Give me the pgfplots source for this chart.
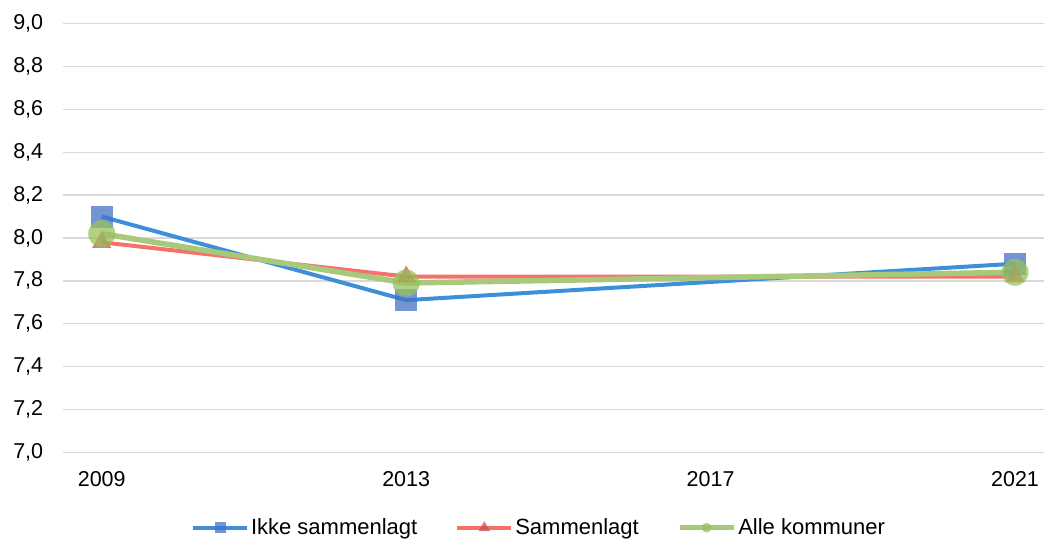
\documentclass[border=0pt]{standalone}
\usepackage{fontspec}
\setmainfont{Liberation Sans}
\usepackage{pgfplots}
\pgfplotsset{compat=1.18}
\definecolor{blueline}{HTML}{3D8FDA}
\definecolor{bluemark}{HTML}{4472C4}
\definecolor{redline}{HTML}{F4726A}
\definecolor{redmark}{HTML}{C9504F}
\definecolor{greenline}{HTML}{A8C97A}
\definecolor{greenmark}{HTML}{99C05C}
\definecolor{gridgray}{HTML}{D9D9D9}
\tikzset{legmark/.style={scale=0.5}}
\begin{document}
\begin{tikzpicture}
\begin{axis}[
  at={(62.7bp,87.7bp)}, anchor=south west,
  scale only axis, width=981.3bp, height=428.6bp,
  xmin=2008.487, xmax=2021.381,
  ymin=7.0, ymax=9.0,
  xtick={2009,2013,2017,2021},
  xticklabels={2009,2013,2017,2021},
  ytick={7.0,7.2,...,9.01},
  axis line style={draw=none},
  major tick length=0pt,
  ymajorgrids, grid style={gridgray, line width=1.3bp},
  tick label style={font=\fontsize{21.5bp}{25bp}\selectfont},
  /pgf/number format/assume math mode=true,
  y tick label style={/pgf/number format/fixed, /pgf/number format/fixed zerofill, /pgf/number format/precision=1, /pgf/number format/use comma, xshift=-16bp},
  x tick label style={yshift=-16bp},
  legend columns=3,
  legend style={at={(axis description cs:0.4854,-0.176)}, anchor=center, draw=none, fill=none,
    font=\fontsize{22bp}{26bp}\selectfont,
    /tikz/every even column/.append style={column sep=36bp}},
  legend image code/.code={\draw[#1,mark repeat=2,mark phase=2, every mark/.append style={legmark}] plot coordinates {(0bp,0bp)(27bp,0bp)(54bp,0bp)};},
  clip=false,
]
\addplot[blueline, line width=4bp, mark=square*, mark size=11bp,
  mark options={draw opacity=0, fill=bluemark, fill opacity=0.75}]
  coordinates {(2009,8.10) (2013,7.71) (2021,7.88)};
\addlegendentry{Ikke sammenlagt}
\addplot[redline, line width=4bp, mark=triangle*, mark size=11bp,
  legmark/.style={scale=0.6},
  mark options={draw opacity=0, fill=redmark, fill opacity=0.75}]
  coordinates {(2009,7.98) (2013,7.82) (2021,7.82)};
\addlegendentry{Sammenlagt}
\addplot[greenline, line width=5.5bp, mark=*, mark size=13.5bp,
  legmark/.style={scale=0.36},
  mark options={draw opacity=0, fill=greenmark, fill opacity=0.75}]
  coordinates {(2009,8.02) (2013,7.79) (2021,7.84)};
\addlegendentry{Alle kommuner}
\end{axis}
\pgfresetboundingbox
\useasboundingbox (0,0) rectangle (1044bp,540bp);
\end{tikzpicture}
\end{document}
